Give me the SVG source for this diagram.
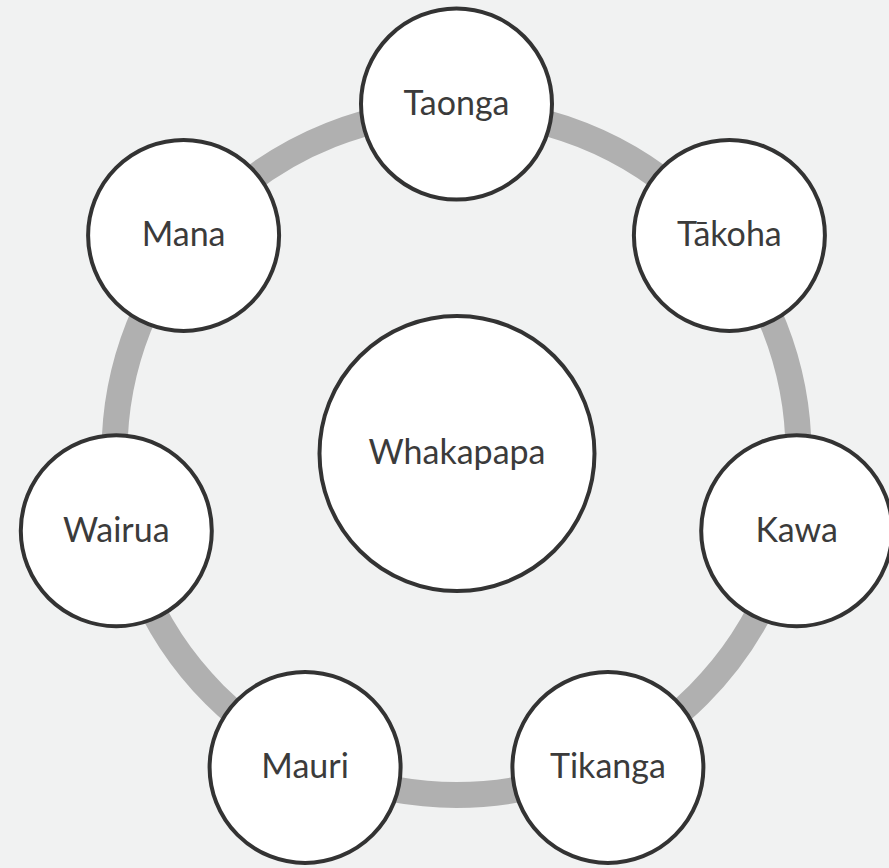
<svg xmlns="http://www.w3.org/2000/svg" width="889" height="868" viewBox="0 0 889 868">
  <style>
    .node circle { fill: #ffffff; stroke: #333333; stroke-width: 4; }
    .node text { font-family: Lato, "Open Sans", "Liberation Sans", sans-serif; font-size: 34px; fill: #3b3b3b; text-anchor: middle; }
    .ring { fill: none; stroke: #b0b0b0; stroke-width: 26; }
  </style>
  <rect x="0" y="0" width="889" height="868" fill="#f1f2f2"/>
  <g id="connectors">
    <circle class="ring" cx="456.5" cy="453" r="342"/>
  </g>
  <g id="node-taonga" class="node">
    <circle cx="456.5" cy="104" r="95.5"/>
    <text x="456.5" y="115">Taonga</text>
  </g>
  <g id="node-takoha" class="node">
    <circle cx="729.4" cy="235.4" r="95.5"/>
    <text x="729.4" y="246.4">Tākoha</text>
  </g>
  <g id="node-kawa" class="node">
    <circle cx="796.7" cy="530.7" r="95.5"/>
    <text x="796.7" y="541.7">Kawa</text>
  </g>
  <g id="node-tikanga" class="node">
    <circle cx="607.9" cy="767.4" r="95.5"/>
    <text x="607.9" y="778.4">Tikanga</text>
  </g>
  <g id="node-mauri" class="node">
    <circle cx="305.1" cy="767.4" r="95.5"/>
    <text x="305.1" y="778.4">Mauri</text>
  </g>
  <g id="node-wairua" class="node">
    <circle cx="116.3" cy="530.7" r="95.5"/>
    <text x="116.3" y="541.7">Wairua</text>
  </g>
  <g id="node-mana" class="node">
    <circle cx="183.6" cy="235.4" r="95.5"/>
    <text x="183.6" y="246.4">Mana</text>
  </g>
  <g id="node-whakapapa" class="node">
    <circle cx="457" cy="453.5" r="137.5"/>
    <text x="457" y="464">Whakapapa</text>
  </g>
</svg>
